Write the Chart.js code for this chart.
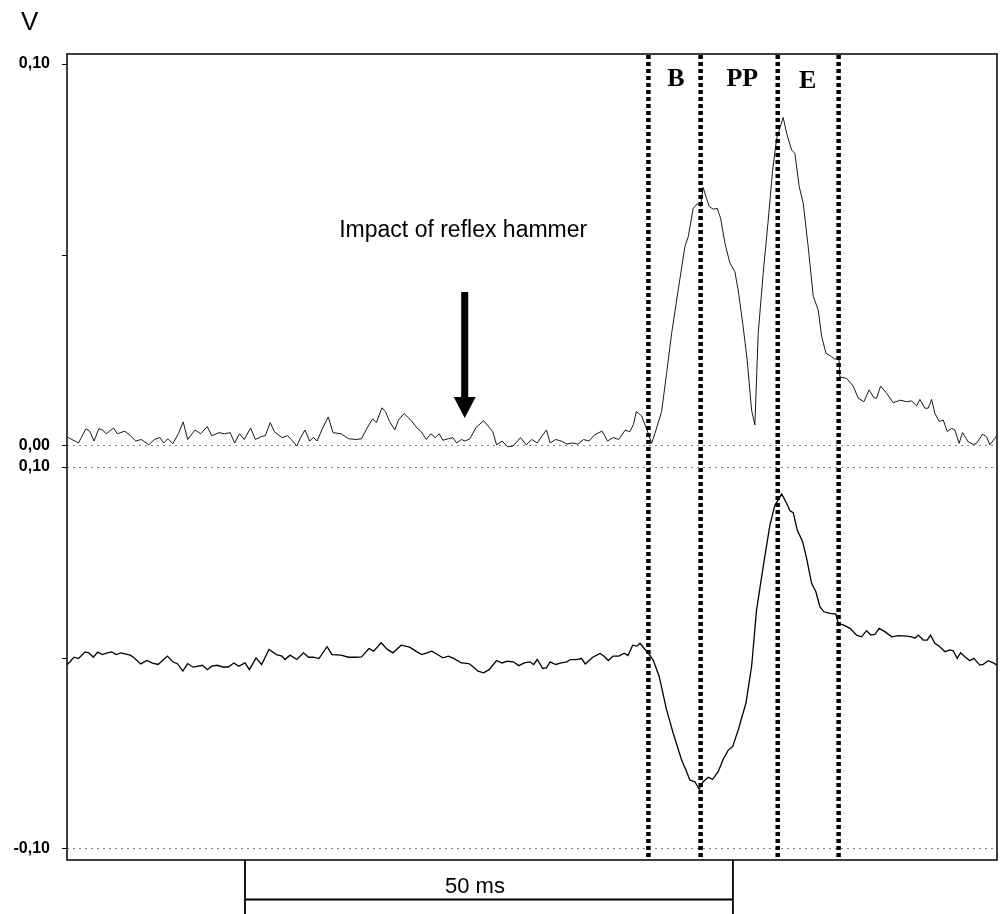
<!DOCTYPE html>
<html><head><meta charset="utf-8">
<script src="https://cdn.jsdelivr.net/npm/chart.js@4.4.1/dist/chart.umd.min.js"></script>
<style>html,body{margin:0;padding:0;background:#fff}</style>
</head><body>
<canvas id="c" width="1000" height="914"></canvas>
<script>
// time in ms, voltage in V
const upperTimes = [0.12,1.18,1.94,2.32,2.77,3.26,3.64,4.02,4.78,5.16,5.92,6.49,7.05,7.62,8.38,8.95,9.52,9.90,10.35,10.84,11.41,11.91,12.36,13.12,13.69,14.37,14.83,15.58,16.15,16.72,17.18,17.67,18.16,18.81,19.30,19.94,20.32,20.82,21.27,22.03,22.60,22.98,23.55,23.93,24.38,24.87,25.25,25.63,26.20,26.77,27.26,28.09,28.85,29.61,30.18,30.75,31.32,31.70,32.27,32.64,33.02,33.59,33.97,34.54,35.30,35.87,36.25,36.82,37.27,37.76,38.14,38.52,39.09,39.54,39.92,40.42,40.79,41.29,41.93,42.69,43.26,43.64,44.02,44.58,45.15,45.72,46.48,47.05,47.62,48.19,48.75,49.13,49.51,50.08,50.65,51.22,51.79,52.36,52.93,53.49,54.06,54.82,55.39,55.96,56.53,57.21,57.66,58.04,58.34,58.88,59.56,59.91,60.25,60.93,61.44,61.96,62.63,63.32,63.66,64.17,64.58,64.93,65.19,65.47,65.81,66.22,66.63,66.98,67.42,67.93,68.44,68.78,69.29,69.70,70.15,70.49,70.83,71.34,71.86,72.31,72.72,73.05,73.39,73.74,74.25,74.59,75.03,75.44,75.95,76.47,76.98,77.33,77.77,78.35,78.69,79.10,79.20,79.89,80.56,81.08,81.66,82.20,82.68,82.96,83.37,83.99,84.67,85.35,86.03,86.55,87.06,87.40,87.91,88.25,88.60,88.93,89.38,89.79,90.20,90.65,90.98,91.42,91.77,92.35,92.86,93.21,93.82,94.23,94.57,95.08,95.30];
const upperValues = [0.0022,0.0008,0.0045,0.0039,0.0013,0.0045,0.0042,0.0032,0.0047,0.0032,0.0039,0.0027,0.0013,0.0017,0.0003,0.0017,0.0022,0.0008,0.0019,0.0006,0.0032,0.0063,0.0017,0.0042,0.0032,0.0051,0.0027,0.0035,0.0032,0.0035,0.0008,0.0032,0.0017,0.0047,0.0017,0.0025,0.0027,0.0061,0.0037,0.0022,0.0027,0.0017,0.0000,0.0022,0.0042,0.0013,0.0022,0.0013,0.0047,0.0076,0.0035,0.0032,0.0019,0.0017,0.0019,0.0047,0.0071,0.0061,0.0100,0.0090,0.0066,0.0042,0.0068,0.0085,0.0066,0.0047,0.0039,0.0017,0.0032,0.0022,0.0032,0.0015,0.0019,0.0022,0.0008,0.0017,0.0013,0.0019,0.0049,0.0066,0.0049,0.0037,0.0003,0.0013,-0.0002,0.0000,0.0022,0.0003,0.0017,0.0008,0.0029,0.0042,0.0008,0.0017,0.0013,0.0005,0.0008,0.0005,0.0017,0.0013,0.0029,0.0039,0.0013,0.0022,0.0017,0.0042,0.0037,0.0056,0.0090,0.0079,0.0033,0.0007,0.0033,0.0090,0.0190,0.0295,0.0408,0.0522,0.0548,0.0622,0.0634,0.0627,0.0677,0.0653,0.0627,0.0620,0.0622,0.0596,0.0531,0.0479,0.0456,0.0408,0.0312,0.0225,0.0094,0.0055,0.0295,0.0452,0.0592,0.0723,0.0805,0.0832,0.0860,0.0819,0.0775,0.0766,0.0679,0.0636,0.0522,0.0392,0.0356,0.0287,0.0243,0.0234,0.0227,0.0234,0.0181,0.0177,0.0157,0.0125,0.0116,0.0147,0.0126,0.0125,0.0157,0.0138,0.0113,0.0120,0.0116,0.0118,0.0105,0.0122,0.0099,0.0099,0.0122,0.0086,0.0064,0.0068,0.0038,0.0046,0.0042,0.0007,0.0035,0.0011,0.0004,0.0007,0.0031,0.0024,0.0003,0.0020,0.0028];

const lowerTimes = [0.04,0.72,1.18,1.86,2.24,2.70,3.15,3.64,4.14,4.59,5.04,5.54,5.92,6.49,6.86,7.55,8.19,8.76,9.33,9.71,10.28,10.84,11.34,11.87,12.36,12.93,13.88,14.37,14.83,15.39,15.96,16.53,17.10,17.59,18.24,18.69,19.37,19.94,20.70,21.46,22.03,22.33,22.86,23.55,24.23,24.76,25.25,25.82,26.65,27.15,28.09,28.85,29.61,30.18,30.94,31.43,32.19,32.83,33.40,34.24,35.11,35.87,36.36,36.89,37.38,37.95,38.52,39.09,39.66,40.42,41.17,41.55,42.12,42.69,43.26,44.02,44.58,45.15,45.72,46.29,46.86,47.43,47.81,48.19,48.75,49.13,49.51,50.08,50.65,51.22,51.60,52.17,52.73,53.11,53.87,54.63,55.01,55.47,55.96,56.53,57.10,57.48,57.97,58.42,58.71,59.56,60.07,60.69,61.44,62.12,62.98,63.42,63.83,64.34,64.78,65.19,65.71,66.16,66.73,67.24,67.76,68.21,68.78,69.57,70.15,70.66,71.34,72.03,72.54,72.88,73.23,73.74,74.08,74.42,74.83,75.38,75.79,76.30,76.74,77.15,77.56,78.18,78.79,79.03,79.54,80.23,80.91,81.42,81.93,82.38,82.79,83.23,83.81,84.50,85.17,86.03,86.55,86.89,87.23,87.74,88.15,88.49,88.93,89.45,89.96,90.47,90.81,91.22,91.57,92.01,92.52,92.93,93.55,93.89,94.40,94.91,95.30];
const lowerValues = [-0.0034,0.0004,-0.0003,0.0032,0.0027,0.0004,0.0031,0.0018,0.0027,0.0032,0.0018,0.0027,0.0022,0.0015,0.0001,-0.0031,-0.0013,-0.0027,-0.0034,-0.0017,0.0010,-0.0020,-0.0031,-0.0069,-0.0029,-0.0048,-0.0038,-0.0061,-0.0043,-0.0038,-0.0047,-0.0047,-0.0026,-0.0043,-0.0026,-0.0061,0.0001,-0.0034,0.0045,0.0018,0.0010,-0.0008,0.0015,-0.0008,0.0027,0.0004,0.0004,-0.0003,0.0059,0.0018,0.0015,0.0004,0.0004,0.0006,0.0050,0.0036,0.0080,0.0045,0.0027,0.0067,0.0057,0.0032,0.0018,0.0027,0.0036,0.0018,0.0001,0.0010,-0.0003,-0.0026,-0.0029,-0.0043,-0.0069,-0.0078,-0.0061,-0.0013,-0.0026,-0.0017,-0.0020,-0.0040,-0.0026,-0.0020,-0.0034,-0.0008,-0.0055,-0.0052,-0.0020,-0.0034,-0.0026,-0.0020,-0.0008,-0.0008,-0.0003,-0.0031,0.0004,0.0024,0.0010,-0.0013,0.0010,0.0010,0.0025,0.0013,0.0067,0.0062,0.0077,0.0025,-0.0011,-0.0098,-0.0272,-0.0394,-0.0534,-0.0586,-0.0639,-0.0648,-0.0687,-0.0648,-0.0625,-0.0635,-0.0595,-0.0530,-0.0482,-0.0464,-0.0377,-0.0237,-0.0046,0.0251,0.0478,0.0696,0.0801,0.0827,0.0859,0.0810,0.0771,0.0761,0.0670,0.0609,0.0522,0.0391,0.0347,0.0269,0.0242,0.0234,0.0230,0.0182,0.0173,0.0155,0.0120,0.0111,0.0143,0.0120,0.0124,0.0155,0.0138,0.0111,0.0117,0.0115,0.0111,0.0103,0.0120,0.0094,0.0094,0.0120,0.0077,0.0059,0.0033,0.0042,0.0038,-0.0002,0.0028,0.0007,-0.0014,-0.0002,-0.0037,-0.0033,-0.0014,-0.0025,-0.0037];

const upperTicks = [0, 0.05, 0.10];
const upperLabeled = [0, 0.10];
const lowerTicks = [-0.10, 0, 0.10];
const lowerLabeled = [-0.10, 0.10];
const phaseBounds = [59.58, 64.93, 72.83, 79.07];
const phaseLabels = ['B', 'PP', 'E'];
const phaseLabelTimes = [62.4, 69.2, 75.9];
const hammerTime = 40.6;
const hammerLabel = 'Impact of reflex hammer';
const scaleBarTimes = [18.24, 68.24];
const scaleBarLabel = '50 ms';
const unitLabel = 'V';

const fmt = v => v.toFixed(2).replace('.', ',');
const has = (arr, v) => arr.some(a => Math.abs(a - v) < 1e-9);
const SANS = '"Liberation Sans", Arial, sans-serif';

const overlay = {
  id: 'overlay',
  afterDraw(chart) {
    const ctx = chart.ctx, a = chart.chartArea;
    const xs = chart.scales.x, yU = chart.scales.yU;
    ctx.save();
    // frame
    ctx.strokeStyle = '#000'; ctx.lineWidth = 1.5; ctx.setLineDash([]);
    ctx.strokeRect(a.left, a.top, a.right - a.left, a.bottom - a.top);
    // phase boundaries
    ctx.lineWidth = 4.5; ctx.setLineDash([4, 3]); ctx.lineCap = 'butt';
    phaseBounds.forEach(t => {
      const x = xs.getPixelForValue(t);
      ctx.beginPath(); ctx.moveTo(x, a.top + 1); ctx.lineTo(x, a.bottom); ctx.stroke();
    });
    ctx.setLineDash([]);
    // phase labels
    ctx.fillStyle = '#000';
    ctx.font = 'bold 26px "Liberation Serif", "Times New Roman", serif';
    ctx.textAlign = 'center'; ctx.textBaseline = 'alphabetic';
    phaseLabels.forEach((l, i) => {
      ctx.fillText(l, xs.getPixelForValue(phaseLabelTimes[i]), l === 'E' ? 88 : 86);
    });
    // hammer label + arrow
    const hx = xs.getPixelForValue(hammerTime);
    ctx.font = '23px ' + SANS;
    ctx.fillText(hammerLabel, hx, yU.getPixelForValue(0.0547));
    const ax = hx + 1.5;
    const yTop = yU.getPixelForValue(0.0403), yHead = yU.getPixelForValue(0.0128), yTip = yU.getPixelForValue(0.0073);
    ctx.fillRect(ax - 3.5, yTop, 7, yHead - yTop + 1);
    ctx.beginPath(); ctx.moveTo(ax - 11, yHead); ctx.lineTo(ax + 11, yHead); ctx.lineTo(ax, yTip); ctx.closePath(); ctx.fill();
    // scale bar
    const x1 = xs.getPixelForValue(scaleBarTimes[0]), x2 = xs.getPixelForValue(scaleBarTimes[1]);
    ctx.lineWidth = 1.8;
    ctx.beginPath(); ctx.moveTo(x1, a.bottom); ctx.lineTo(x1, 914); ctx.stroke();
    ctx.beginPath(); ctx.moveTo(x2, a.bottom); ctx.lineTo(x2, 914); ctx.stroke();
    ctx.lineWidth = 2;
    ctx.beginPath(); ctx.moveTo(x1, 899.5); ctx.lineTo(x2, 899.5); ctx.stroke();
    ctx.font = '22px ' + SANS;
    ctx.fillText(scaleBarLabel, (x1 + x2) / 2 - 14, 893);
    // unit
    ctx.textAlign = 'left';
    ctx.font = '26px ' + SANS;
    ctx.fillText(unitLabel, 21, 30);
    ctx.restore();
  }
};

const tickFont = {family: SANS, size: 16, weight: 'bold'};

new Chart(document.getElementById('c'), {
  type: 'line',
  data: {
    datasets: [
      {
        label: 'upper',
        data: upperTimes.map((t, i) => ({x: t, y: upperValues[i]})),
        yAxisID: 'yU', borderColor: '#1a1a1a', borderWidth: 1, pointRadius: 0, tension: 0, fill: false
      },
      {
        label: 'lower',
        data: lowerTimes.map((t, i) => ({x: t, y: lowerValues[i]})),
        yAxisID: 'yL', borderColor: '#000', borderWidth: 1.3, pointRadius: 0, tension: 0, fill: false
      }
    ]
  },
  options: {
    responsive: false,
    animation: false,
    layout: {padding: {top: 54, right: 3, bottom: 54, left: 0}},
    plugins: {legend: {display: false}, tooltip: {enabled: false}},
    scales: {
      x: {type: 'linear', min: 0, max: 95.3, display: false},
      yL: {
        type: 'linear', position: 'left', stack: 'v', stackWeight: 1, weight: 1,
        min: -0.10576, max: 0.10524,
        afterBuildTicks: s => { s.ticks = lowerTicks.map(v => ({value: v})); },
        afterFit: s => { s.width = 67; },
        ticks: {callback: v => has(lowerLabeled, v) ? fmt(v) : '', font: tickFont, color: '#000', padding: 12, autoSkip: false, maxRotation: 0},
        grid: {color: c => (c.tick && has(lowerLabeled, c.tick.value)) ? '#808080' : 'rgba(0,0,0,0)', lineWidth: 1, tickColor: '#000', tickLength: 5, tickWidth: 1},
        border: {display: false, dash: [2, 4]}
      },
      yU: {
        type: 'linear', position: 'left', stack: 'v', stackWeight: 1, weight: 2,
        min: -0.00288, max: 0.10262,
        afterBuildTicks: s => { s.ticks = upperTicks.map(v => ({value: v})); },
        afterFit: s => { s.width = 67; },
        ticks: {callback: v => has(upperLabeled, v) ? fmt(v) : '', font: tickFont, color: '#000', padding: 12, autoSkip: false, maxRotation: 0},
        grid: {color: c => (c.tick && Math.abs(c.tick.value) < 1e-9) ? '#808080' : 'rgba(0,0,0,0)', lineWidth: 1, tickColor: '#000', tickLength: 5, tickWidth: 1},
        border: {display: false, dash: [2, 4]}
      }
    }
  },
  plugins: [overlay]
});
</script>
</body></html>
